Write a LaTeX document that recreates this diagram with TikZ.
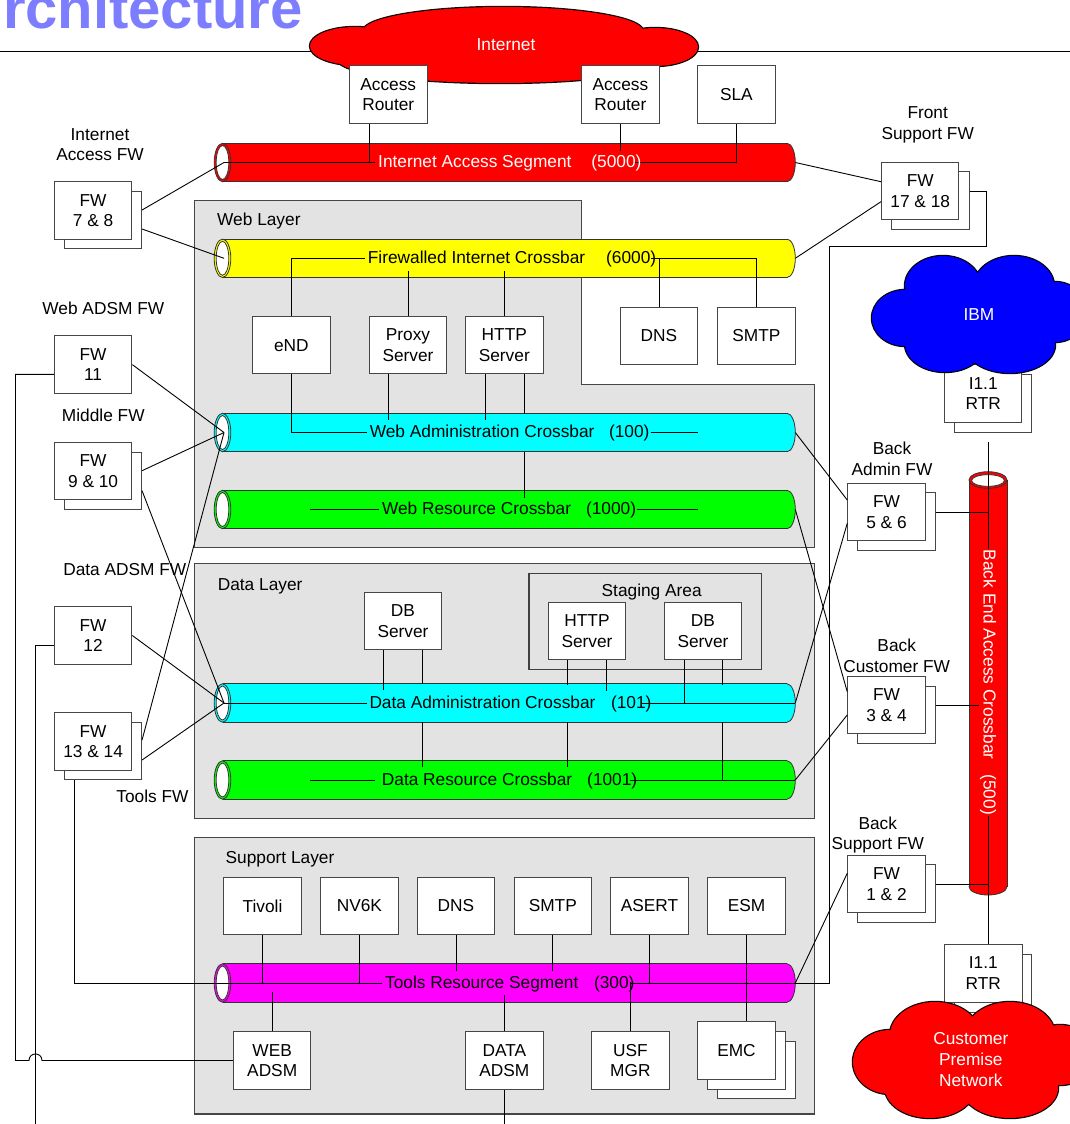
\documentclass[tikz,border=0pt]{standalone}
\usepackage{fontspec}
\setmainfont{Liberation Sans}
\definecolor{titleblue}{RGB}{125,125,255}
\definecolor{layergray}{RGB}{227,227,227}
\definecolor{edgegray}{RGB}{70,70,70}
\definecolor{segred}{RGB}{255,0,0}
\definecolor{segyellow}{RGB}{255,255,0}
\definecolor{segcyan}{RGB}{0,255,255}
\definecolor{seggreen}{RGB}{0,255,0}
\definecolor{segmagenta}{RGB}{255,0,255}
\definecolor{cloudblue}{RGB}{0,0,255}

% horizontal network segment drawn as a pipe: #1 name, #2 centre y, #3 colour
\newcommand{\hpipe}[3]{%
  \fill[#3] (222.5,{#2-19.2}) rectangle (787,{#2+19.2});
  \fill[#3] (787,#2) ellipse [x radius=8.3, y radius=19.2];
  \begin{scope}
    \clip (787,{#2-22}) rectangle (800,{#2+22});
    \draw[pipeedge] (787,#2) ellipse [x radius=8.3, y radius=19.2];
  \end{scope}
  \draw[pipeedge] (222.5,{#2-19.2}) -- (787,{#2-19.2}) (222.5,{#2+19.2}) -- (787,{#2+19.2});
  \draw[pipeedge, fill=#3] (222.5,#2) ellipse [x radius=8.3, y radius=19.2];
  \draw[pipeedge, fill=white] (222.5,#2) ellipse [x radius=6.3, y radius=17.0];
  \coordinate (#1L) at (224,#2);
  \coordinate (#1R) at (795.3,#2);
}
% cloud built from overlapping ellipses: #1 fill colour, #2 ellipse list
\newcommand{\cloudblob}[2]{\draw[line width=2.4pt,black] #2; \fill[#1] #2;}

\begin{document}
\fontsize{17.3}{20.7}\selectfont
\begin{tikzpicture}[x=1pt,y=-1pt,
  box/.style={draw=edgegray,line width=1pt,fill=white,minimum width=77.5pt,
    minimum height=57.6pt,inner sep=0pt,align=center},
  lbl/.style={align=center,inner sep=0pt},
  wire/.style={draw=black,line width=0.9pt},
  pipeedge/.style={draw=black!80,line width=0.8pt},
  layer/.style={draw=edgegray,line width=1.1pt,fill=layergray},
  seglabel/.style={anchor=base west,inner sep=0pt},
]
\useasboundingbox (0,0) rectangle (1070,1124);
\clip (0,0) rectangle (1070,1124);

% heading and rule
\node[anchor=base east,inner sep=0pt,text=titleblue,
  font=\fontsize{58}{58}\selectfont\bfseries] (title) at (303,28.5) {rchitecture};
\draw[line width=1.6pt] (0,51.7) -- (1070,51.7);

% Internet cloud
\cloudblob{segred}{(355,46) ellipse [x radius=45,y radius=19]
  (503,31) ellipse [x radius=140,y radius=24]
  (655,47) ellipse [x radius=43,y radius=19]
  (500,60) ellipse [x radius=162,y radius=23]}
\node[text=white] (inet) at (506,45) {Internet};

% layers
\draw[layer] (194.6,200.7) -- (581.7,200.7) -- (581.7,384.3) -- (814.1,384.3)
  -- (814.1,547.7) -- (194.6,547.7) -- cycle;
\draw[layer] (194.6,563.3) rectangle (814.1,818.3);
\draw[layer] (194.6,837.7) rectangle (814.1,1114);
\draw[layer,draw=black!75] (529,573.3) rectangle (761.7,669.3);
\node[anchor=base west,inner sep=0pt] (webL) at (217,225.5) {Web Layer};
\node[anchor=base west,inner sep=0pt] (dataL) at (217.6,590.5) {Data Layer};
\node[anchor=base west,inner sep=0pt] (suppL) at (225.5,863.5) {Support Layer};
\node[anchor=base,inner sep=0pt] (stageL) at (651.7,596.2) {Staging Area};

% segments
\hpipe{ias}{162.5}{segred}
\hpipe{fic}{258.3}{segyellow}
\hpipe{wac}{432.5}{segcyan}
\hpipe{wrc}{509.5}{seggreen}
\hpipe{dac}{703}{segcyan}
\hpipe{drc}{780}{seggreen}
\hpipe{trs}{983}{segmagenta}

% back end access crossbar (vertical)
\fill[segred] (969,480) rectangle (1007,886.7);
\fill[segred] (988,886.7) ellipse [x radius=19, y radius=8.3];
\begin{scope}
  \clip (965,886.7) rectangle (1011,898);
  \draw[pipeedge] (988,886.7) ellipse [x radius=19, y radius=8.3];
\end{scope}
\draw[pipeedge] (969,480) -- (969,886.7) (1007,480) -- (1007,886.7);
\draw[pipeedge,fill=segred] (988,480) ellipse [x radius=19, y radius=8.3];
\draw[pipeedge,fill=white] (988,480.5) ellipse [x radius=16.4, y radius=5.8];
\coordinate (bbTop) at (988.7,442.3);

% boxes
\node[box] (ar1) at (388.25,94.5) {Access\\Router};
\node[box] (ar2) at (620.4,94.5) {Access\\Router};
\node[box] (sla) at (736.4,94.5) {SLA};
\node[box] (fw78b) at (102.8,219.85) {};
\node[box] (fw78) at (93.1,210.5) {FW\\7 \& 8};
\node[box] (fw1718b) at (930.3,200.5) {};
\node[box] (fw1718) at (920.2,191.15) {FW\\17 \& 18};
\node[box] (enD) at (291.35,345.15) {eND};
\node[box] (proxy) at (408,345.15) {Proxy\\Server};
\node[box] (httpw) at (504.3,345.15) {HTTP\\Server};
\node[box] (dnsw) at (659,335.85) {DNS};
\node[box] (smtpw) at (756.4,335.85) {SMTP};
\node[box] (fw11) at (93.1,364.65) {FW\\11};
\node[box] (fw910b) at (102.8,480.85) {};
\node[box] (fw910) at (93.1,471.15) {FW\\9 \& 10};
\node[box] (rtrupb) at (993.1,403.5) {};
\node[box] (rtrup) at (983.2,393.5) {I1.1\\RTR};
\node[box] (fw56b) at (896.7,521.5) {};
\node[box] (fw56) at (886.5,511.85) {FW\\5 \& 6};
\node[box] (dbd) at (403,621.15) {DB\\Server};
\node[box] (https) at (587,630.85) {HTTP\\Server};
\node[box] (dbs) at (703,630.85) {DB\\Server};
\node[box] (fw12) at (93.1,635.5) {FW\\12};
\node[box] (fw1314b) at (102.8,751.15) {};
\node[box] (fw1314) at (93.1,741.7) {FW\\13 \& 14};
\node[box] (fw34b) at (896.7,715) {};
\node[box] (fw34) at (886.5,705.15) {FW\\3 \& 4};
\node[box] (fw1n2b) at (896.7,893.5) {};
\node[box] (fw1n2) at (886.5,883.85) {FW\\1 \& 2};
\node[box] (tivoli) at (262.5,905.85) {Tivoli};
\node[box] (nv6k) at (359.4,905.85) {NV6K};
\node[box] (dnss) at (456,905.85) {DNS};
\node[box] (smtps) at (552.8,905.85) {SMTP};
\node[box] (asert) at (649.5,905.85) {ASERT};
\node[box] (esm) at (746.5,905.85) {ESM};
\node[box] (webadsm) at (272.2,1060.5) {WEB\\ADSM};
\node[box] (dataadsm) at (504.3,1060.5) {DATA\\ADSM};
\node[box] (usfmgr) at (630.4,1060.5) {USF\\MGR};
\node[box] (emcc) at (756.5,1069.85) {};
\node[box] (emcb) at (746.6,1060.5) {};
\node[box] (emc) at (736.5,1050.5) {EMC};
\node[box] (rtrlob) at (993.1,983.2) {};
\node[box] (rtrlo) at (983.3,973.3) {I1.1\\RTR};

% internet access segment links
\draw[wire] (iasL) -- (375,162.5);
\draw[wire] ([xshift=-18.75pt]ar1.south) |- (375,162.5);
\draw[wire] (ar2.south) -- ++(0,26.7);
\draw[wire] (sla.south) |- (633,162.5);
\draw[wire] ([yshift=9.85pt]fw78b.east) -- (iasL);
\draw[wire] ([yshift=-9.15pt]fw78b.east) -- (ficL);
\draw[wire] (iasR) -- ([yshift=9.45pt]fw1718.west);
\draw[wire] (ficR) -- ([yshift=-10.55pt]fw1718.west);
\draw[wire] ([yshift=9.5pt]fw1718b.east) -| (986.3,246.7) -| (829.6,983) -- (trsR) -- (649.5,983);

% firewalled internet crossbar links
\draw[wire] (enD.north) |- (365,258.3);
\draw[wire] (proxy.north) -- ++(0,-45.35);
\draw[wire] (httpw.north) -- ++(0,-45.35);
\draw[wire] (smtpw.north) |- (650.5,258.3);
\draw[wire] (dnsw.north) -- ++(0,-48.75);

% web administration / resource links
\draw[wire] (enD.south) |- (366.7,432.5);
\draw[wire] ([xshift=-19.6pt]proxy.south) -- ++(0,45.35);
\draw[wire] ([xshift=-18.8pt]httpw.south) -- ++(0,45.35);
\draw[wire] ([xshift=19.7pt]httpw.south) -- ++(0,39.35);
\draw[wire] (524,451.7) -- (524,498.3);
\draw[wire] (650.5,432.5) -- (697.7,432.5);
\draw[wire] (310,509.5) -- (378.8,509.5);
\draw[wire] (636.7,509.5) -- (697.7,509.5);
\draw[wire] (fw11.east) -- (wacL);
\draw[wire] ([yshift=10.15pt]fw910b.east) -- (wacL);
\draw[wire] ([yshift=-9.85pt]fw910b.east) -- (dacL);
\draw[wire] ([yshift=11.15pt]fw1314b.east) -- (wacL);
\draw[wire] ([yshift=-8.85pt]fw1314b.east) -- (dacL);
\draw[wire] (fw12.east) -- (dacL);
\draw[wire] ([yshift=-9.5pt]fw12.west) -| (35.5,1130);
\draw[wire] (webadsm.west) -- (42,1060.5) .. controls (42,1051.8) and (29,1051.8) .. (29,1060.5)
  -| (15.5,374.3) -- ([yshift=-9.7pt]fw11.west);
\draw[wire] (wacR) -- ([yshift=11.85pt]fw56.west);
\draw[wire] (wrcR) -- ([yshift=13.45pt]fw34.west);
\draw[wire] (dacR) -- ([yshift=-11.45pt]fw56.west);
\draw[wire] (drcR) -- ([yshift=-9.85pt]fw34.west);

% data administration / resource links
\draw[wire] (dacL) -- (366.7,703);
\draw[wire] ([xshift=-19.7pt]dbd.south) -- ++(0,40);
\draw[wire] ([xshift=19.2pt]dbd.south) -- ++(0,34);
\draw[wire] (422.2,722.3) -- (422.2,766.7);
\draw[wire] ([xshift=-19.3pt]https.south) -- ++(0,24.35);
\draw[wire] (567.7,722.3) -- (567.7,766.7);
\draw[wire] ([xshift=19.7pt]https.south) -- ++(0,30.35);
\draw[wire] ([xshift=-19pt]dbs.south) |- (641.7,703);
\draw[wire] (684,703) -- (dacR);
\draw[wire] ([xshift=19.7pt]dbs.south) -- ++(0,24.35);
\draw[wire] (722.7,722.3) |- (630,780);
\draw[wire] (722.7,780) -- (drcR);
\draw[wire] (310,780) -- (375.3,780);

% tools resource segment links
\draw[wire] ([xshift=-28.8pt]fw1314b.south) |- (381.5,983);
\draw[wire] (tivoli.south) -- ++(0,48.35);
\draw[wire] (nv6k.south) -- ++(0,48.35);
\draw[wire] (dnss.south) -- ++(0,35.35);
\draw[wire] (smtps.south) -- ++(0,35.35);
\draw[wire] (asert.south) |- (629.9,983);
\draw[wire] (usfmgr.north) -- ++(0,-48.8);
\draw[wire] (webadsm.north) -- ++(0,-39);
\draw[wire] (dataadsm.north) -- ++(0,-36.7);
\draw[wire] (dataadsm.south) -- ++(0,40);
\draw[wire] (esm.south) -- (esm.south |- emc.north);
\draw[wire] (trsR) -- ([yshift=10.55pt]fw1n2.west);

% back end links
\draw[wire] (bbTop) -- ([xshift=5.4pt]rtrlo.north);
\draw[wire] ([yshift=9.2pt]fw56b.east) -- (988.7,512.3);
\draw[wire] ([yshift=10pt]fw34b.east) -- (988.7,705);
\draw[wire] ([yshift=9.5pt]fw1n2b.east) -- (988.7,884);

% IBM cloud
\cloudblob{cloudblue}{(943,286) ellipse [x radius=38,y radius=30]
  (1014,286) ellipse [x radius=40,y radius=30]
  (905,318) ellipse [x radius=33,y radius=28]
  (945,344) ellipse [x radius=40,y radius=28]
  (1010,345) ellipse [x radius=45,y radius=28]
  (1055,312) ellipse [x radius=32,y radius=30]
  (979,315) ellipse [x radius=80,y radius=40]}
\node[text=white] (ibm) at (979,315) {IBM};

% customer premise cloud
\cloudblob{segred}{(935,1035) ellipse [x radius=45,y radius=33]
  (1010,1035) ellipse [x radius=45,y radius=33]
  (890,1062) ellipse [x radius=37,y radius=32]
  (930,1088) ellipse [x radius=45,y radius=30]
  (1010,1088) ellipse [x radius=48,y radius=30]
  (1060,1055) ellipse [x radius=35,y radius=30]
  (971,1060) ellipse [x radius=80,y radius=40]}
\node[text=white,align=center] (cpn) at (970.8,1059.7) {Customer\\Premise\\Network};

% back end crossbar caption
\node[rotate=-90,fill=segred,text=white,inner sep=1pt,anchor=east] (bbT) at (988,816)
  {Back End Access Crossbar\hspace{15pt}(500)};

% segment captions
\node[seglabel,text=white] (iasT) at (378,167.7) {Internet Access Segment\hspace{20pt}(5000)};
\node[seglabel] (ficT) at (367.7,263.5) {Firewalled Internet Crossbar\hspace{21pt}(6000)};
\node[seglabel] (wacT) at (369.6,437.9) {Web Administration Crossbar\hspace{14.6pt}(100)};
\node[seglabel] (wrcT) at (381.8,514.9) {Web Resource Crossbar\hspace{15pt}(1000)};
\node[seglabel] (dacT) at (369.3,708.3) {Data Administration Crossbar\hspace{15.6pt}(101)};
\node[seglabel] (drcT) at (381.7,785.3) {Data Resource Crossbar\hspace{15pt}(1001)};
\node[seglabel] (trsT) at (384.9,988.3) {Tools Resource Segment\hspace{15.7pt}(300)};

% firewall captions
\node[lbl] (lblIAFW) at (100,144.7) {Internet\\Access FW};
\node[lbl] (lblFSFW) at (927.7,124.7) {Front\\Support FW};
\node[lbl] (lblWAFW) at (103.3,308.3) {Web ADSM FW};
\node[lbl] (lblMFW) at (103.3,415) {Middle FW};
\node[lbl] (lblBAFW) at (892,458.7) {Back\\Admin FW};
\node[lbl] (lblDAFW) at (124.8,570) {Data ADSM FW};
\node[lbl] (lblBCFW) at (896.7,655.5) {Back\\Customer FW};
\node[lbl] (lblTFW) at (152.4,796) {Tools FW};
\node[lbl] (lblBSFW) at (877.8,835) {Back\\Support FW};
\end{tikzpicture}
\end{document}
